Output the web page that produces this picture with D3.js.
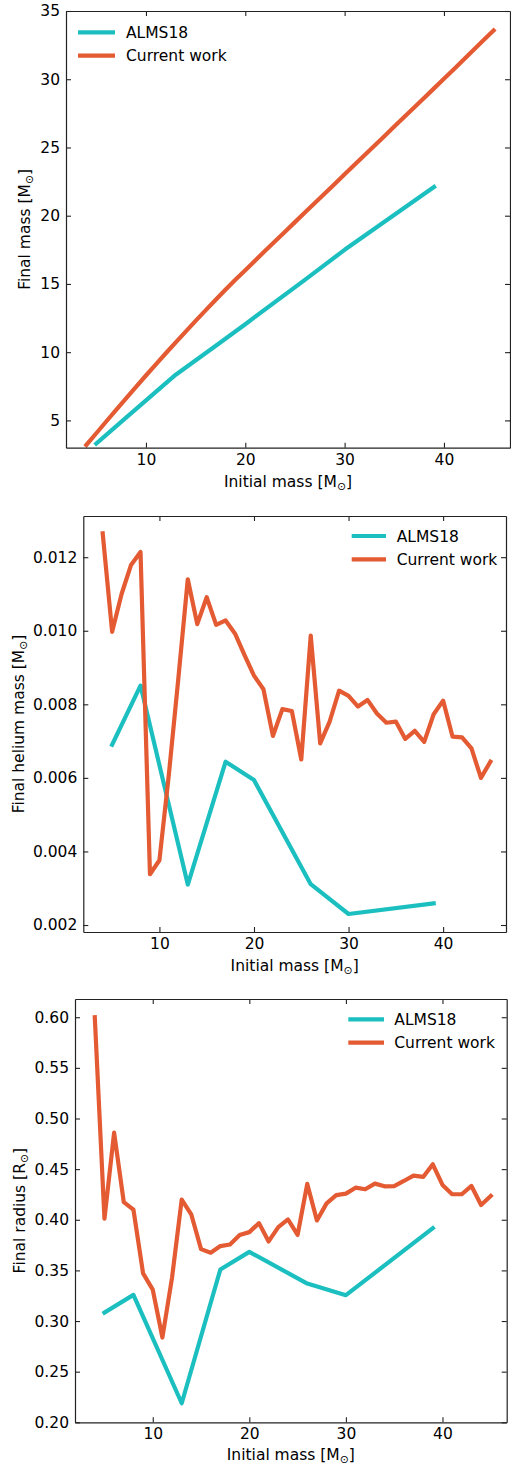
<!DOCTYPE html>
<html>
<head>
<meta charset="utf-8">
<script src="https://cdn.jsdelivr.net/npm/d3@7"></script>
<style>
  html, body { margin: 0; padding: 0; background: #fff; }
  svg { display: block; }
  text { font-family: "DejaVu Sans", sans-serif; fill: #000; }
</style>
</head>
<body>
<svg id="chart" width="511" height="1465"></svg>
<script>
// ---------- data ----------
const currentMass = [4,5,6,7,8,9,10,11,12,13,14,15,16,17,18,19,20,21,22,23,24,25,26,27,28,29,30,31,32,33,34,35,36,37,38,39,40,41,42,43,44,45];
const almsMass = [5,8,13,17,20,26,30,39];

const currentFinalMass = [3.2,4.06,4.92,5.77,6.62,7.46,8.29,9.11,9.92,10.72,11.51,12.29,13.06,13.82,14.57,15.31,16.0,16.72,17.43,18.13,18.83,19.53,20.23,20.93,21.63,22.33,23.03,23.73,24.43,25.13,25.83,26.53,27.23,27.93,28.63,29.33,30.03,30.74,31.45,32.16,32.87,33.58];
const almsFinalMass = [3.3,5.2,8.35,10.45,12.05,15.3,17.5,22.1];

const currentHelium = [0.01265,0.00997,0.0110,0.01179,0.01214,0.00338,0.00376,0.0061,0.0087,0.0114,0.01018,0.01091,0.01016,0.01028,0.00992,0.00934,0.00878,0.00841,0.00714,0.00787,0.00782,0.0065,0.00987,0.00694,0.00753,0.00837,0.00823,0.00794,0.00812,0.00775,0.0075,0.00753,0.00706,0.00728,0.00698,0.00773,0.0081,0.00712,0.0071,0.0068,0.0060,0.00644];
const almsHelium = [0.0069,0.00851,0.0031,0.00644,0.00594,0.00311,0.0023,0.00259];

const currentRadius = [0.600,0.401,0.486,0.4174,0.410,0.347,0.331,0.2837,0.343,0.420,0.405,0.371,0.3675,0.374,0.3756,0.385,0.3878,0.3967,0.3786,0.3927,0.4003,0.385,0.4354,0.3993,0.4162,0.4244,0.4258,0.4317,0.4301,0.4357,0.433,0.4333,0.4383,0.4436,0.4423,0.4548,0.4344,0.4252,0.4252,0.4334,0.4146,0.4235];
const almsRadius = [0.3083,0.3258,0.2188,0.3509,0.3683,0.337,0.3255,0.3917];

const xTicks = [10,20,30,40];
const massTicks = [5,10,15,20,25,30,35];
const heliumTicks = [0.002,0.004,0.006,0.008,0.010,0.012];
const radiusTicks = [0.20,0.25,0.30,0.35,0.40,0.45,0.50,0.55,0.60];

const seriesNames = ["ALMS18", "Current work"];
const colors = ["#1cbfbf", "#e45a32"];

// ---------- layout ----------
const svg = d3.select("#chart");
const FS = 15.5;

const panels = [
  { left: 66, right: 510, top: 11, bottom: 447.7, yDomain: [3.0, 35], yTicks: massTicks, yFmt: d3.format("d"),
    ySeries: [almsFinalMass, currentFinalMass], yLabel: "Final mass [", sym: "M", yLabelX: 25, xLabelOff: 39,
    legend: { x1: 78, x2: 115, y: 32.3, tx: 126 } },
  { left: 83.3, right: 506, top: 516, bottom: 932, yDomain: [0.00181, 0.01312], yTicks: heliumTicks, yFmt: d3.format(".3f"),
    ySeries: [almsHelium, currentHelium], yLabel: "Final helium mass [", sym: "M", yLabelX: 19, xLabelOff: 39,
    legend: { x1: 351.7, x2: 386, y: 536, tx: 396.7 } },
  { left: 75, right: 506.7, top: 999, bottom: 1422.3, yDomain: [0.20, 0.618], yTicks: radiusTicks, yFmt: d3.format(".2f"),
    ySeries: [almsRadius, currentRadius], yLabel: "Final radius [", sym: "R", yLabelX: 20, xLabelOff: 37.5,
    legend: { x1: 348.3, x2: 384, y: 1019.3, tx: 394.3 } }
];

const xDomain = [1.95, 46.65];
const xData = [almsMass, currentMass];

panels.forEach(p => {
  const x = d3.scaleLinear().domain(xDomain).range([p.left, p.right]);
  const y = d3.scaleLinear().domain(p.yDomain).range([p.bottom, p.top]);
  const g = svg.append("g");

  // lines
  const line = d3.line().x(d => x(d[0])).y(d => y(d[1]));
  [0, 1].forEach(i => {
    const pts = xData[i].map((v, k) => [v, p.ySeries[i][k]]);
    g.append("path")
      .attr("d", line(pts))
      .attr("fill", "none")
      .attr("stroke", colors[i])
      .attr("stroke-width", 4.2)
      .attr("stroke-linejoin", "round")
      .attr("stroke-linecap", "square");
  });

  // axes
  const styleAxis = (sel, showLabels) => {
    sel.select(".domain").attr("stroke", "#222").attr("stroke-width", 1.2);
    sel.selectAll(".tick line").attr("stroke", "#222").attr("stroke-width", 1.1);
    sel.selectAll(".tick text")
      .style("font-family", '"DejaVu Sans", sans-serif')
      .style("font-size", FS + "px")
      .attr("fill", "#000");
    if (!showLabels) sel.selectAll(".tick text").remove();
  };

  g.append("g").attr("transform", `translate(0,${p.bottom})`)
    .call(d3.axisBottom(x).tickValues(xTicks).tickFormat(d3.format("d")).tickSizeInner(-5).tickSizeOuter(0).tickPadding(6))
    .call(s => styleAxis(s, true));
  g.append("g").attr("transform", `translate(0,${p.top})`)
    .call(d3.axisTop(x).tickValues(xTicks).tickSizeInner(-5).tickSizeOuter(0))
    .call(s => styleAxis(s, false));
  g.append("g").attr("transform", `translate(${p.left},0)`)
    .call(d3.axisLeft(y).tickValues(p.yTicks).tickFormat(p.yFmt).tickSizeInner(-5).tickSizeOuter(0).tickPadding(6))
    .call(s => styleAxis(s, true));
  g.append("g").attr("transform", `translate(${p.right},0)`)
    .call(d3.axisRight(y).tickValues(p.yTicks).tickSizeInner(-5).tickSizeOuter(0))
    .call(s => styleAxis(s, false));

  // x label
  const xl = g.append("text")
    .attr("x", (p.left + p.right) / 2)
    .attr("y", p.bottom + p.xLabelOff)
    .attr("text-anchor", "middle")
    .style("font-size", FS + "px");
  xl.append("tspan").text("Initial mass [M");
  xl.append("tspan").text("\u2299").style("font-size", (FS * 0.7) + "px").attr("dy", 3);
  xl.append("tspan").text("]").attr("dy", -3);

  // y label
  const yl = g.append("text")
    .attr("transform", `translate(${p.yLabelX + 5},${(p.top + p.bottom) / 2}) rotate(-90)`)
    .attr("text-anchor", "middle")
    .style("font-size", FS + "px");
  yl.append("tspan").text(p.yLabel + p.sym);
  yl.append("tspan").text("\u2299").style("font-size", (FS * 0.7) + "px").attr("dy", 3);
  yl.append("tspan").text("]").attr("dy", -3);

  // legend
  seriesNames.forEach((name, i) => {
    const ly = p.legend.y + i * 23.3;
    g.append("line")
      .attr("x1", p.legend.x1).attr("x2", p.legend.x2)
      .attr("y1", ly).attr("y2", ly)
      .attr("stroke", colors[i]).attr("stroke-width", 4.2);
    g.append("text")
      .attr("x", p.legend.tx).attr("y", ly)
      .attr("dy", "0.36em")
      .style("font-size", FS + "px")
      .text(name);
  });
});
</script>
</body>
</html>
